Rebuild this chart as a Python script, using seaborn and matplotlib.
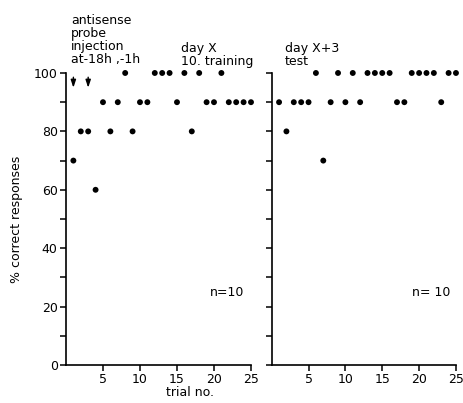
import matplotlib
matplotlib.use("Agg")
import matplotlib.pyplot as plt
import seaborn as sns
import pandas as pd

trials = list(range(1, 26))
training = [70, 80, 80, 60, 90, 80, 90, 100, 80, 90, 90, 100, 100, 100, 90,
            100, 80, 100, 90, 90, 100, 90, 90, 90, 90]
test = [90, 80, 90, 90, 90, 100, 70, 90, 100, 90, 100, 90, 100, 100, 100,
        100, 90, 90, 100, 100, 100, 100, 90, 100, 100]
x_ticks = [5, 10, 15, 20, 25]
y_ticks = [0, 20, 40, 60, 80, 100]
arrow_trials = [1, 3]

sns.set_theme(style="ticks")
plt.rcParams['font.family'] = ['DejaVu Sans']
plt.rcParams['text.color'] = 'black'
plt.rcParams['axes.labelcolor'] = 'black'
plt.rcParams['xtick.color'] = 'black'
plt.rcParams['ytick.color'] = 'black'

df_train = pd.DataFrame({"trial": trials, "pct": training})
df_test = pd.DataFrame({"trial": trials, "pct": test})

fig = plt.figure(figsize=(4.63, 4.03), dpi=100)
axL = fig.add_axes([0.1425, 0.0943, 0.3996, 0.7246])
axR = fig.add_axes([0.5868, 0.0943, 0.3980, 0.7246])

for ax, df in ((axL, df_train), (axR, df_test)):
    sns.scatterplot(data=df, x="trial", y="pct", ax=ax, color="black", s=18,
                    edgecolor="none", clip_on=False, legend=False)
    ax.set_xlim(0, 25)
    ax.set_ylim(0, 100)
    ax.set_xticks(x_ticks)
    ax.set_yticks(list(range(0, 101, 10)))
    for s in ("top", "right"):
        ax.spines[s].set_visible(False)
    for s in ("left", "bottom"):
        ax.spines[s].set_linewidth(1.2)
        ax.spines[s].set_color("black")
    ax.tick_params(direction="out", length=4, width=1.1, color="black",
                   labelcolor="black", labelsize=9, pad=2)
    ax.set_xlabel("")
    ax.set_ylabel("")
    ax.set_facecolor("white")

axL.set_yticklabels([str(v) if v in y_ticks else "" for v in range(0, 101, 10)])
axR.set_yticklabels([])

axL.set_ylabel("% correct responses", fontsize=9, labelpad=8, color="black")
fig.text(190 / 463, 1 - 392 / 403, "trial no.", ha="center", va="center",
         fontsize=9, color="black")

fig.text(71 / 463, 1 - 14 / 403, "antisense\nprobe\ninjection\nat-18h ,-1h",
         ha="left", va="top", fontsize=9, linespacing=1.0, color="black")
fig.text(181 / 463, 1 - 42 / 403, "day X\n10. training",
         ha="left", va="top", fontsize=9, linespacing=1.0, color="black")
fig.text(285 / 463, 1 - 42 / 403, "day X+3\ntest",
         ha="left", va="top", fontsize=9, linespacing=1.0, color="black")

for t in arrow_trials:
    axL.annotate("", xy=(t, 94), xytext=(t, 99.5), xycoords="data",
                 arrowprops=dict(arrowstyle="-|>,head_width=0.15,head_length=0.45",
                                 color="black", lw=1.0, mutation_scale=10),
                 annotation_clip=False)

axL.text(0.78, 0.235, "n=10", transform=axL.transAxes, fontsize=9, ha="left",
         color="black")
axR.text(0.76, 0.235, "n= 10", transform=axR.transAxes, fontsize=9, ha="left",
         color="black")

fig.savefig("out.png", dpi=100, facecolor="white")
